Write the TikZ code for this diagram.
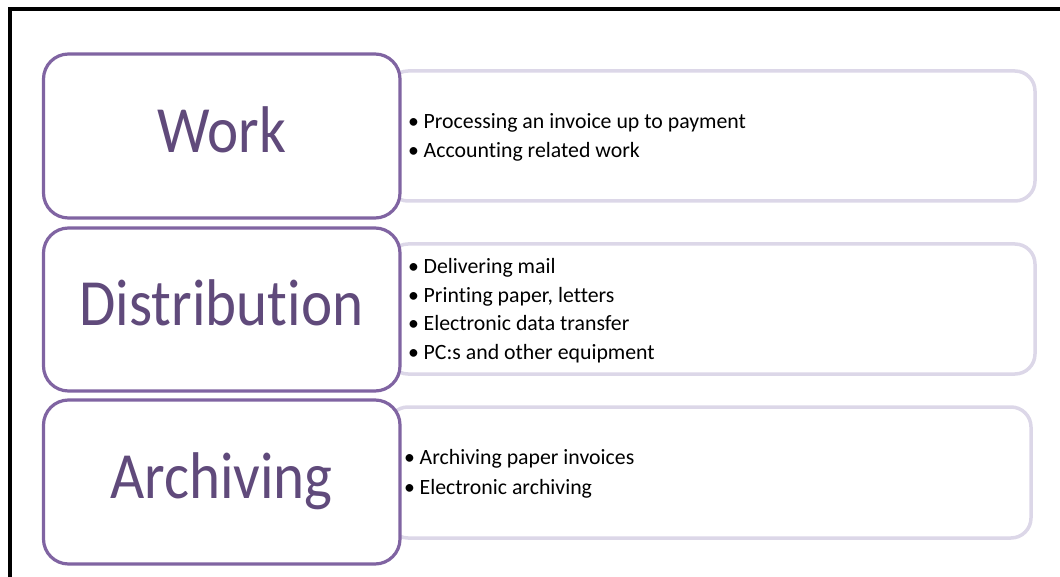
\documentclass[tikz,border=0pt]{standalone}
\usepackage{fontspec}
\setmainfont[Ligatures=NoCommon]{Carlito}
\newfontfamily\catfont[FakeStretch=0.895,Ligatures=NoCommon]{Carlito}
\usetikzlibrary{positioning}
\definecolor{boxpurple}{HTML}{8064A2}
\definecolor{textpurple}{HTML}{604A7B}
\definecolor{lightlav}{HTML}{DCD7E8}
\newcommand{\blt}{\makebox[15.5pt][l]{\textbullet}}

\begin{document}
\begin{tikzpicture}[x=1pt,y=-1pt,
  catbox/.style={draw=boxpurple, line width=3.2pt, fill=white, rounded corners=25pt,
    minimum width=356.5pt, inner sep=0pt},
  itembox/.style={draw=lightlav, line width=3.5pt, fill=white, rounded corners=20pt,
    minimum height=130pt, inner sep=0pt},
  catlabel/.style={anchor=base, inner sep=0pt, text=textpurple,
    font=\catfont\fontsize{66}{66}\selectfont},
  item/.style={anchor=base west, inner sep=0pt, font=\fontsize{21.8}{29}\selectfont}]
\useasboundingbox (0,0) rectangle (1060,577);
\draw [line width=4pt] (9.5,577) -- (9.5,9) -- (1060,9);
% item boxes, behind
\node [itembox, minimum width=647pt] (workitems) at (711.5,136) {};
\node [itembox, minimum width=647pt] (distitems) at (711.5,309) {};
\node [itembox, minimum width=643pt, minimum height=131pt] (architems) at (709.5,472.5) {};
% category boxes
\node [catbox, minimum height=164pt] (work) at (221.75,136) {};
\node [catbox, minimum height=163pt] (dist) at (221.75,309.5) {};
\node [catbox, minimum height=164pt] (arch) at (221.75,482) {};
\node [catlabel] (worklbl) at (221.5,153) {Work};
\node [catlabel] (distlbl) at (221.5,325) {Distribution};
\node [catlabel] (archlbl) at (221.5,498) {Archiving};
% bullets
\node [item] (w1) at (408,128.5) {\blt Processing an invoice up to payment};
\node [item] (w2) at (408,157.5) {\blt Accounting related work};
\node [item] (d1) at (408,273.5) {\blt Delivering mail};
\node [item] (d2) at (408,302) {\blt Printing paper, letters};
\node [item] (d3) at (408,330.5) {\blt Electronic data transfer};
\node [item] (d4) at (408,359) {\blt PC:s and other equipment};
\node [item] (a1) at (404,464) {\blt Archiving paper invoices};
\node [item] (a2) at (404,494) {\blt Electronic archiving};
\end{tikzpicture}
\end{document}
